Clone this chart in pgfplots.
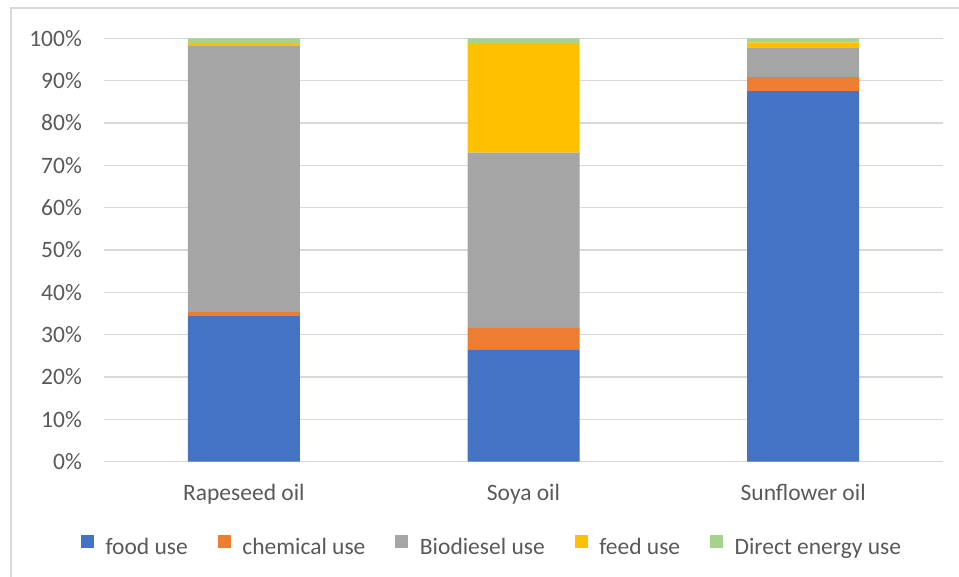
\documentclass[border=0pt]{standalone}
\usepackage{fontspec}
\setmainfont{Carlito}
\usepackage{pgfplots}
\pgfplotsset{compat=1.18}
\definecolor{cfood}{HTML}{4472C4}
\definecolor{cchem}{HTML}{ED7D31}
\definecolor{cbio}{HTML}{A5A5A5}
\definecolor{cfeed}{HTML}{FFC000}
\definecolor{cdir}{HTML}{A9D18E}
\definecolor{gridc}{HTML}{D9D9D9}
\definecolor{textc}{HTML}{595959}
\pgfplotsset{leg/.style={legend image code/.code={\fill[##1] (0pt,0.5pt) rectangle (13pt,13pt);}}}
\begin{document}
\fontsize{23.5}{28}\selectfont
\begin{tikzpicture}[x=1pt,y=1pt]
\path[use as bounding box] (0,0) rectangle (959,577);
\draw[color=gridc, line width=1.5pt] (11,-20) -- (11,569) -- (990,569);
\begin{axis}[
  at={(104pt,115.3pt)}, anchor=south west,
  scale only axis, width=839pt, height=423.4pt,
  ybar stacked, bar width=112pt,
  ymin=0, ymax=100, xmin=-0.5, xmax=2.5,
  enlargelimits=false,
  xtick={0,1,2}, xticklabels={Rapeseed oil, Soya oil, Sunflower oil},
  ytick={0,10,...,100},
  yticklabel={\pgfmathprintnumber{\tick}\%},
  /pgf/number format/assume math mode=true,
  ymajorgrids, grid style={color=gridc, line width=1.3pt},
  axis line style={draw=none},
  tick style={draw=none},
  major tick length=0pt,
  tick label style={font=\fontsize{23.5}{28}\selectfont, text=textc, inner sep=0pt},
  xticklabel shift=22pt,
  yticklabel shift=22pt,
  legend columns=5,
  legend style={draw=none, fill=none, at={(0.4613,-0.201)}, anchor=center,
    font=\fontsize{23.5}{28}\selectfont, text=textc,
    nodes={inner sep=0pt},
    /tikz/every odd column/.append style={column sep=11.5pt},
    /tikz/every even column/.append style={column sep=30pt}},
]
\addplot[fill=cfood, draw=none, leg] coordinates {(0,34.4) (1,26.5) (2,87.5)};
\addplot[fill=cchem, draw=none, leg] coordinates {(0,0.9) (1,5.1) (2,3.3)};
\addplot[fill=cbio, draw=none, leg] coordinates {(0,63.0) (1,41.4) (2,6.9)};
\addplot[fill=cfeed, draw=none, leg] coordinates {(0,0.6) (1,25.7) (2,1.35)};
\addplot[fill=cdir, draw=none, leg] coordinates {(0,1.1) (1,1.3) (2,0.95)};
\legend{food use, chemical use, Biodiesel use, feed use, Direct energy use}
\end{axis}
\end{tikzpicture}
\end{document}
